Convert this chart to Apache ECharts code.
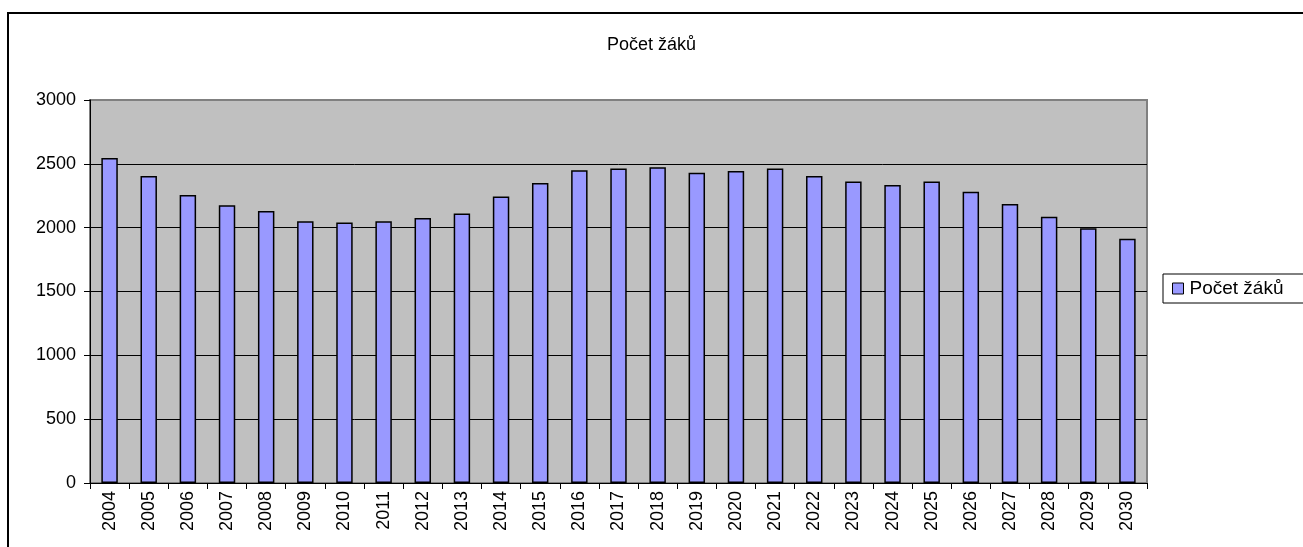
<!DOCTYPE html>
<html>
<head>
<meta charset="utf-8">
<title>Počet žáků</title>
<script src="https://cdn.jsdelivr.net/npm/echarts@6/dist/echarts.min.js"></script>
<style>
  html, body { margin: 0; padding: 0; background: #fff; }
  #main { width: 1303px; height: 547px; }
</style>
</head>
<body>
<div id="main"></div>
<script>
// data
var years = ['2004', '2005', '2006', '2007', '2008', '2009', '2010', '2011', '2012',
  '2013', '2014', '2015', '2016', '2017', '2018', '2019', '2020', '2021', '2022',
  '2023', '2024', '2025', '2026', '2027', '2028', '2029', '2030'];
var pocetZaku = [2545, 2405, 2255, 2175, 2130, 2050, 2040, 2050, 2075,
  2110, 2245, 2350, 2450, 2463, 2474, 2430, 2443, 2463, 2404,
  2362, 2334, 2362, 2282, 2186, 2085, 1995, 1914];
var seriesName = 'Počet žáků';
var yTicks = [0, 500, 1000, 1500, 2000, 2500, 3000];

var font = 'Liberation Sans, Arial, sans-serif';
var myChart = echarts.init(document.getElementById('main'));

var option = {
  backgroundColor: '#fff',
  animation: false,
  textStyle: { fontFamily: font },
  title: {
    text: seriesName,
    left: 'center',
    top: 31,
    textStyle: { fontFamily: font, fontSize: 18, fontWeight: 'normal', color: '#000' }
  },
  graphic: [{
    type: 'rect',
    shape: { x: 8, y: 13, width: 1310, height: 560 },
    style: { fill: 'none', stroke: '#000', lineWidth: 2 },
    silent: true
  }],
  legend: {
    data: [seriesName],
    orient: 'vertical',
    left: 1163,
    top: 274,
    padding: [5, 30, 5, 9],
    borderColor: '#000',
    borderWidth: 1,
    icon: 'rect',
    itemWidth: 11,
    itemHeight: 11,
    itemGap: 4,
    itemStyle: { borderColor: '#000', borderWidth: 1 },
    textStyle: { fontFamily: font, fontSize: 19, color: '#000', padding: [0, 0, 0, 1] }
  },
  grid: {
    left: 90,
    right: 156,
    top: 100,
    bottom: 64,
    show: true,
    backgroundColor: '#C0C0C0',
    borderColor: '#808080',
    borderWidth: 2
  },
  xAxis: {
    type: 'category',
    data: years,
    axisLine: { lineStyle: { color: '#000', width: 1 } },
    axisTick: { show: true, length: 6, lineStyle: { color: '#000' } },
    axisLabel: { rotate: 90, color: '#000', fontSize: 18, fontFamily: font, margin: 8 }
  },
  yAxis: {
    type: 'value',
    min: yTicks[0],
    max: yTicks[yTicks.length - 1],
    interval: 500,
    axisLine: { show: true, lineStyle: { color: '#000', width: 1 } },
    axisTick: { show: true, length: 6, lineStyle: { color: '#000' } },
    axisLabel: {
      color: '#000', fontSize: 18, fontFamily: font, margin: 14,
      formatter: function (v) { return String(v); }
    },
    splitLine: { showMaxLine: false, lineStyle: { color: '#000', width: 1 } }
  },
  series: [{
    name: seriesName,
    type: 'bar',
    data: pocetZaku,
    barWidth: '42%',
    itemStyle: { color: '#9999FF', borderColor: '#000', borderWidth: 1.5 }
  }]
};
myChart.setOption(option);
</script>
</body>
</html>
